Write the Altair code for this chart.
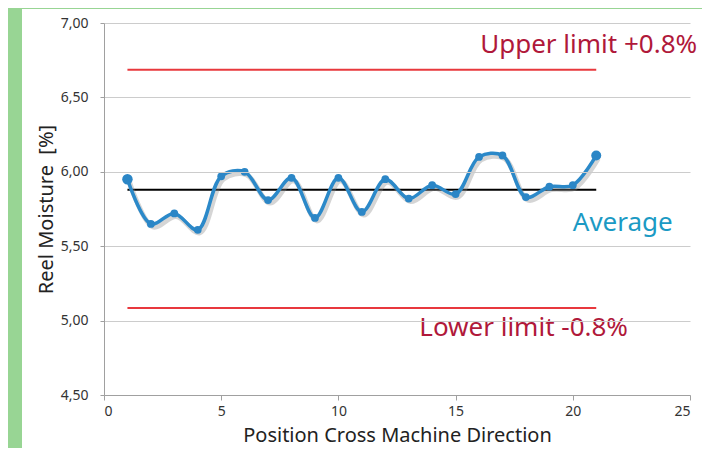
import altair as alt
import pandas as pd

positions = list(range(1, 22))
moisture = [5.95, 5.65, 5.72, 5.61, 5.97, 6.00, 5.81, 5.96, 5.69, 5.96, 5.73,
            5.95, 5.82, 5.91, 5.85, 6.10, 6.11, 5.83, 5.90, 5.91, 6.11]
point_sizes = [110, 60, 60, 60, 60, 60, 60, 60, 60, 60, 60,
               60, 60, 60, 60, 60, 60, 60, 60, 60, 100]

average = 5.88
upper = 6.685
lower = 5.085
line_start, line_end = 1, 21

label_texts = ["Upper limit +0.8%", "Average", "Lower limit -0.8%"]
label_x = [16.05, 20.0, 13.45]
label_y = [6.85, 5.655, 4.95]
label_colors = ["#b0183a", "#1b9ac4", "#b0183a"]

df = pd.DataFrame({"pos": positions, "val": moisture, "size": point_sizes})
refs = pd.DataFrame({
    "x": [line_start, line_start, line_start],
    "x2": [line_end, line_end, line_end],
    "y": [upper, average, lower],
    "kind": ["upper", "avg", "lower"],
})
labels = pd.DataFrame({"t": label_texts, "x": label_x, "y": label_y, "c": label_colors})

FONT = "Noto Sans"
xs = alt.Scale(domain=[0, 25], nice=False)
ys = alt.Scale(domain=[4.5, 7.0], nice=False)

panel = alt.Chart(pd.DataFrame({"a": [0]})).mark_rect(color="white").encode(
    x=alt.value(-82), x2=alt.value(598), y=alt.value(-14), y2=alt.value(425)
)

base_axes = alt.Chart(df).mark_point(opacity=0).encode(
    x=alt.X("pos:Q", scale=xs,
            axis=alt.Axis(values=[0, 5, 10, 15, 20, 25], title="Position Cross Machine Direction",
                          grid=False, domainColor="#a0a0a0", tickColor="#a0a0a0", tickSize=5,
                          labelFontSize=14, labelColor="#333", labelFont=FONT, labelPadding=4,
                          titleFont=FONT, titleFontSize=20, titleFontWeight="normal",
                          titleColor="#222", titlePadding=7, zindex=1)),
    y=alt.Y("val:Q", scale=ys,
            axis=alt.Axis(values=[4.5, 5.0, 5.5, 6.0, 6.5, 7.0], title="Reel Moisture \u00a0[%]",
                          labelExpr="replace(format(datum.value, '.2f'), '.', ',')",
                          grid=True, gridColor="#cccccc", domainColor="#a0a0a0",
                          tickColor="#a0a0a0", tickSize=4, labelFontSize=14, labelColor="#333",
                          labelFont=FONT, labelPadding=12, titleFont=FONT, titleFontSize=20,
                          titleFontWeight="normal", titleColor="#222", titlePadding=4,
                          zindex=1)),
)

ref_lines = alt.Chart(refs).mark_rule(strokeWidth=2).encode(
    x=alt.X("x:Q", scale=xs), x2="x2:Q", y=alt.Y("y:Q", scale=ys),
    color=alt.Color("kind:N", scale=alt.Scale(domain=["upper", "avg", "lower"],
                                              range=["#e8383d", "#000000", "#e8383d"]),
                    legend=None),
)

shadow = alt.Chart(df).mark_line(interpolate="catmull-rom", color="#888888", opacity=0.35,
                                 strokeWidth=5, xOffset=2, yOffset=3).encode(
    x=alt.X("pos:Q", scale=xs), y=alt.Y("val:Q", scale=ys)
)

line = alt.Chart(df).mark_line(interpolate="catmull-rom", color="#2b89c9", strokeWidth=3.5).encode(
    x=alt.X("pos:Q", scale=xs), y=alt.Y("val:Q", scale=ys)
)

pts = alt.Chart(df).mark_circle(color="#2b86c6", opacity=1).encode(
    x=alt.X("pos:Q", scale=xs), y=alt.Y("val:Q", scale=ys),
    size=alt.Size("size:Q", scale=None, legend=None),
)

txt = alt.Chart(labels).mark_text(align="left", baseline="middle", font=FONT, fontSize=26).encode(
    x=alt.X("x:Q", scale=xs), y=alt.Y("y:Q", scale=ys), text="t:N",
    color=alt.Color("c:N", scale=None, legend=None),
)

chart = alt.layer(panel, base_axes, ref_lines, shadow, line, pts, txt).properties(
    width=586, height=372,
    autosize=alt.AutoSizeParams(type="none"),
    padding={"left": 96, "top": 15, "right": 12, "bottom": 53},
    background="#98d594",
).configure_view(strokeWidth=0)

chart.save("out.html", embed_options={"renderer": "svg", "actions": False})
